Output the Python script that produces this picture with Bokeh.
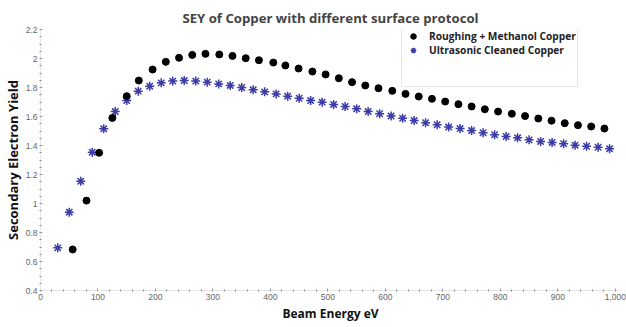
from bokeh.plotting import figure
from bokeh.models import (ColumnDataSource, Range1d, FixedTicker, NumeralTickFormatter,
                          Legend, LegendItem)
from bokeh.embed import file_html
from bokeh.resources import INLINE

title_text = "SEY of Copper with different surface protocol"
x_label = "Beam Energy eV"
y_label = "Secondary Electron Yield"

rough_name = "Roughing + Methanol Copper"
rough_x = [56, 80, 102, 125, 150, 171, 195, 218, 241, 264, 287, 311, 334, 357, 380, 405,
           426, 449, 473, 496, 519, 542, 565, 588, 612, 635, 658, 681, 704, 727, 750, 773,
           796, 820, 843, 866, 889, 912, 935, 958, 981]
rough_y = [0.683, 1.02, 1.35, 1.59, 1.74, 1.848, 1.924, 1.977, 2.005, 2.025, 2.032, 2.028,
           2.018, 2.002, 1.988, 1.972, 1.952, 1.931, 1.910, 1.890, 1.864, 1.837, 1.814,
           1.795, 1.777, 1.756, 1.738, 1.722, 1.703, 1.685, 1.669, 1.650, 1.634, 1.619,
           1.603, 1.586, 1.571, 1.554, 1.540, 1.531, 1.517]

ultra_name = "Ultrasonic Cleaned Copper"
ultra_x = [30, 50, 70, 90, 110, 130, 150, 170, 190, 210, 230, 250, 270, 290, 310, 330, 350,
           370, 390, 410, 430, 450, 470, 490, 510, 530, 550, 570, 590, 610, 630, 650, 670,
           690, 710, 730, 750, 770, 790, 810, 830, 850, 870, 890, 910, 930, 950, 970, 990]
ultra_y = [0.694, 0.940, 1.154, 1.354, 1.515, 1.634, 1.710, 1.775, 1.809, 1.832, 1.844,
           1.848, 1.844, 1.837, 1.825, 1.814, 1.800, 1.784, 1.770, 1.756, 1.740, 1.726,
           1.710, 1.699, 1.683, 1.669, 1.653, 1.634, 1.619, 1.603, 1.588, 1.572, 1.557,
           1.543, 1.527, 1.517, 1.503, 1.488, 1.474, 1.462, 1.453, 1.439, 1.428, 1.421,
           1.412, 1.402, 1.395, 1.388, 1.377]

x_ticks = [0, 100, 200, 300, 400, 500, 600, 700, 800, 900, 1000]
x_minor = [v for v in range(20, 1000, 20) if v % 100 != 0]
y_ticks = [0.4, 0.6, 0.8, 1.0, 1.2, 1.4, 1.6, 1.8, 2.0, 2.2]
y_minor = [round(0.45 + 0.05 * i, 2) for i in range(36) if round((0.45 + 0.05 * i) * 100) % 20 != 0]

p = figure(width=626, height=327, output_backend="svg", toolbar_location=None,
           x_range=Range1d(0, 1009), y_range=Range1d(0.4, 2.2),
           min_border_left=38, min_border_right=6, min_border_top=29, min_border_bottom=37)
p.outline_line_color = None
p.xgrid.visible = False
p.ygrid.visible = False

p.title.text = title_text
p.title.text_font = "Open Sans"
p.title.text_font_size = "13.2px"
p.title.text_font_style = "bold"
p.title.align = "center"
p.title.standoff = 6
p.title.offset = 3

for ax, lab in ((p.xaxis[0], x_label), (p.yaxis[0], y_label)):
    ax.axis_label = lab
    ax.axis_label_text_font = "Open Sans"
    ax.axis_label_text_font_style = "bold"
    ax.axis_label_text_color = "#111111"
    ax.major_label_text_font = "Liberation Sans"
    ax.major_label_text_font_size = "8.5px"
    ax.major_label_text_color = "#666666"
    ax.major_label_standoff = 2
    ax.axis_line_color = "#e4e4e4"
    ax.axis_line_width = 1
    ax.major_tick_in = 2
    ax.major_tick_out = 1
    ax.major_tick_line_color = "#999999"
    ax.minor_tick_in = 1
    ax.minor_tick_out = 1
    ax.minor_tick_line_color = "#888888"

p.xaxis[0].axis_label_text_font_size = "12px"
p.xaxis[0].axis_label_standoff = 2
p.yaxis[0].axis_label_text_font_size = "13px"
p.yaxis[0].axis_label_standoff = 1

p.xaxis[0].ticker = FixedTicker(ticks=x_ticks, minor_ticks=x_minor)
p.yaxis[0].ticker = FixedTicker(ticks=y_ticks, minor_ticks=y_minor)
p.xaxis[0].formatter = NumeralTickFormatter(format="0,0")
p.yaxis[0].formatter = NumeralTickFormatter(format="0.[0]")

src_r = ColumnDataSource(dict(x=rough_x, y=rough_y))
src_u = ColumnDataSource(dict(x=ultra_x, y=ultra_y))
src_e = ColumnDataSource(dict(x=[], y=[]))

r_u = p.scatter("x", "y", source=src_u, marker="asterisk", size=9, line_width=1.5,
                line_color="#3c3ca6")
r_r = p.scatter("x", "y", source=src_r, marker="circle", size=7, fill_color="black",
                line_color="black")
r_e = p.scatter("x", "y", source=src_e, marker="circle", size=1, alpha=0)

legend = Legend(items=[LegendItem(label=rough_name, renderers=[r_r]),
                       LegendItem(label=ultra_name, renderers=[r_u]),
                       LegendItem(label=" ", renderers=[r_e]),
                       LegendItem(label="  ", renderers=[r_e])],
                location=(361, 203))
legend.margin = 0
legend.padding = 1
legend.spacing = 0
legend.glyph_width = 20
legend.glyph_height = 14
legend.label_height = 14
legend.label_standoff = 6
legend.label_text_font = "Open Sans"
legend.label_text_font_size = "10.2px"
legend.label_text_font_style = "bold"
legend.label_text_color = "#222222"
legend.border_line_color = "#d0d0d0"
legend.border_line_width = 1
legend.background_fill_alpha = 1
p.add_layout(legend, "center")

open("out.html", "w").write(file_html(p, INLINE))
